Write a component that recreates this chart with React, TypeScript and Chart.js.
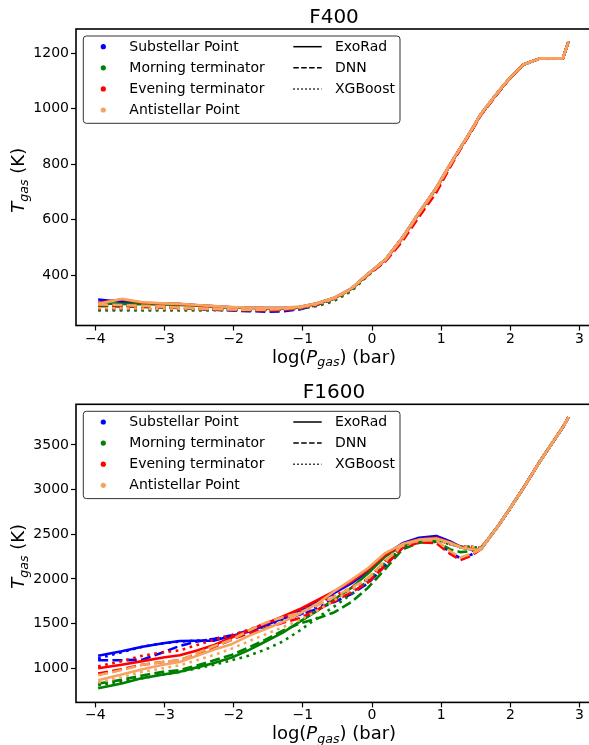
import React, { useEffect, useRef } from 'react';
import { Chart, registerables } from 'chart.js';

Chart.register(...registerables);

const FONT = '"DejaVu Sans", Verdana, sans-serif';

// log10 pressure grid (bar)
const LOG_P = [-3.96, -3.62, -3.32, -3.02, -2.78, -2.53, -2.28, -2.03, -1.79, -1.54, -1.29, -1.05, -0.8, -0.55, -0.3, -0.06, 0.19, 0.44, 0.68, 0.93, 1.13, 1.28, 1.43, 1.57, 1.82, 1.97, 2.19, 2.43, 2.76, 2.84];

const LOCATIONS = ['Substellar Point', 'Morning terminator', 'Evening terminator', 'Antistellar Point'];
const METHODS = ['ExoRad', 'DNN', 'XGBoost'];

const X_TICKS = [-4, -3, -2, -1, 0, 1, 2, 3];
const F400_Y_TICKS = [400, 600, 800, 1000, 1200];
const F1600_Y_TICKS = [1000, 1500, 2000, 2500, 3000, 3500];

// ---------- F400 ----------
const F400_EXORAD_SUB = [312, 303, 299, 297, 295, 291, 287, 284, 282, 281, 281, 285, 297, 317, 351, 404, 455, 535, 625, 715, 800, 860, 920, 980, 1060, 1105, 1160, 1182, 1182, 1243];
const F400_EXORAD_MORN = [298, 296, 295, 294, 292, 289, 285, 283, 281, 280, 280, 284, 296, 316, 350, 403, 454, 534, 624, 714, 799, 860, 920, 980, 1060, 1105, 1160, 1182, 1182, 1243];
const F400_EXORAD_EVE = [300, 312, 300, 297, 295, 291, 287, 284, 282, 281, 281, 285, 297, 317, 351, 404, 455, 535, 625, 715, 800, 860, 920, 980, 1060, 1105, 1160, 1182, 1182, 1243];
const F400_EXORAD_ANTI = [296, 314, 302, 298, 296, 292, 288, 285, 283, 282, 282, 286, 298, 318, 352, 405, 456, 536, 626, 716, 801, 861, 921, 981, 1061, 1106, 1160, 1182, 1182, 1243];
const F400_DNN_SUB = [290, 288, 286, 284, 281, 278, 275, 272, 270, 268, 269, 276, 292, 314, 350, 402, 452, 530, 620, 708, 795, 858, 918, 978, 1058, 1104, 1160, 1182, 1182, 1243];
const F400_DNN_MORN = [288, 287, 285, 283, 281, 279, 277, 275, 274, 274, 275, 280, 293, 315, 350, 402, 452, 530, 621, 709, 796, 858, 918, 978, 1058, 1104, 1160, 1182, 1182, 1243];
const F400_DNN_EVE = [292, 290, 287, 285, 282, 279, 276, 274, 273, 272, 274, 280, 294, 315, 350, 400, 448, 522, 610, 698, 790, 855, 915, 976, 1056, 1103, 1159, 1182, 1182, 1243];
const F400_DNN_ANTI = [294, 292, 289, 286, 283, 280, 278, 276, 275, 275, 277, 283, 296, 316, 351, 403, 453, 532, 622, 711, 798, 859, 919, 979, 1059, 1105, 1160, 1182, 1182, 1243];
const F400_XGB_SUB = [276, 276, 276, 276, 276, 276, 276, 276, 276, 276, 277, 280, 290, 310, 345, 400, 455, 536, 626, 715, 800, 860, 920, 980, 1060, 1105, 1160, 1182, 1182, 1243];
const F400_XGB_MORN = [272, 272, 272, 272, 272, 272, 273, 273, 273, 274, 275, 278, 288, 306, 342, 398, 452, 532, 622, 712, 798, 859, 919, 979, 1059, 1105, 1160, 1182, 1182, 1243];
const F400_XGB_EVE = [278, 278, 278, 277, 277, 277, 277, 277, 277, 277, 278, 282, 292, 312, 347, 402, 454, 534, 624, 714, 799, 860, 920, 980, 1060, 1105, 1160, 1182, 1182, 1243];
const F400_XGB_ANTI = [280, 280, 279, 279, 279, 278, 278, 278, 278, 278, 279, 283, 294, 314, 349, 403, 455, 535, 625, 715, 800, 860, 920, 980, 1060, 1105, 1160, 1182, 1182, 1243];

// ---------- F1600 ----------
const F1600_EXORAD_SUB = [1140, 1190, 1240, 1280, 1305, 1308, 1310, 1360, 1410, 1480, 1560, 1650, 1740, 1840, 1950, 2080, 2270, 2400, 2460, 2480, 2420, 2360, 2335, 2330, 2590, 2760, 3020, 3320, 3700, 3810];
const F1600_EXORAD_MORN = [776, 830, 890, 930, 960, 1010, 1060, 1120, 1200, 1300, 1400, 1520, 1640, 1770, 1900, 2060, 2250, 2380, 2440, 2455, 2405, 2352, 2332, 2328, 2590, 2760, 3020, 3320, 3700, 3810];
const F1600_EXORAD_EVE = [1000, 1040, 1080, 1120, 1146, 1200, 1260, 1345, 1420, 1500, 1580, 1660, 1760, 1860, 1970, 2100, 2270, 2390, 2445, 2462, 2408, 2355, 2333, 2329, 2590, 2760, 3020, 3320, 3700, 3810];
const F1600_EXORAD_ANTI = [866, 930, 990, 1040, 1071, 1140, 1210, 1270, 1360, 1440, 1520, 1610, 1720, 1860, 1990, 2120, 2290, 2390, 2440, 2452, 2405, 2352, 2332, 2328, 2590, 2760, 3020, 3320, 3700, 3810];
const F1600_DNN_SUB = [1090, 1090, 1095, 1180, 1250, 1300, 1330, 1370, 1420, 1500, 1560, 1600, 1660, 1740, 1830, 1950, 2150, 2350, 2415, 2415, 2300, 2230, 2270, 2330, 2590, 2760, 3020, 3320, 3700, 3810];
const F1600_DNN_MORN = [828, 870, 920, 960, 980, 1030, 1090, 1150, 1230, 1320, 1420, 1500, 1555, 1625, 1740, 1900, 2110, 2330, 2405, 2420, 2330, 2300, 2310, 2335, 2590, 2760, 3020, 3320, 3700, 3810];
const F1600_DNN_EVE = [940, 990, 1040, 1070, 1090, 1160, 1240, 1320, 1390, 1450, 1510, 1560, 1650, 1750, 1850, 1960, 2150, 2350, 2410, 2400, 2280, 2212, 2260, 2330, 2590, 2760, 3020, 3320, 3700, 3810];
const F1600_DNN_ANTI = [922, 980, 1040, 1070, 1090, 1170, 1250, 1320, 1420, 1510, 1570, 1620, 1700, 1800, 1900, 2010, 2200, 2380, 2430, 2430, 2310, 2240, 2280, 2330, 2590, 2760, 3020, 3320, 3700, 3810];
const F1600_XGB_SUB = [1110, 1180, 1240, 1280, 1300, 1310, 1320, 1360, 1410, 1470, 1530, 1600, 1680, 1780, 1880, 1990, 2200, 2370, 2430, 2445, 2390, 2365, 2360, 2345, 2590, 2760, 3020, 3320, 3700, 3810];
const F1600_XGB_MORN = [809, 850, 890, 930, 960, 1000, 1040, 1090, 1140, 1210, 1300, 1420, 1560, 1690, 1830, 1980, 2180, 2360, 2425, 2440, 2385, 2365, 2360, 2345, 2590, 2760, 3020, 3320, 3700, 3810];
const F1600_XGB_EVE = [1020, 1080, 1140, 1180, 1200, 1260, 1320, 1370, 1430, 1500, 1570, 1640, 1720, 1810, 1900, 2000, 2200, 2370, 2430, 2445, 2390, 2365, 2360, 2345, 2590, 2760, 3020, 3320, 3700, 3810];
const F1600_XGB_ANTI = [840, 900, 960, 1000, 1034, 1090, 1150, 1220, 1300, 1380, 1460, 1538, 1640, 1760, 1880, 2000, 2200, 2370, 2430, 2445, 2390, 2365, 2360, 2345, 2590, 2760, 3020, 3320, 3700, 3810];

const F400_SERIES = [
  [F400_EXORAD_SUB, F400_DNN_SUB, F400_XGB_SUB],
  [F400_EXORAD_MORN, F400_DNN_MORN, F400_XGB_MORN],
  [F400_EXORAD_EVE, F400_DNN_EVE, F400_XGB_EVE],
  [F400_EXORAD_ANTI, F400_DNN_ANTI, F400_XGB_ANTI],
];
const F1600_SERIES = [
  [F1600_EXORAD_SUB, F1600_DNN_SUB, F1600_XGB_SUB],
  [F1600_EXORAD_MORN, F1600_DNN_MORN, F1600_XGB_MORN],
  [F1600_EXORAD_EVE, F1600_DNN_EVE, F1600_XGB_EVE],
  [F1600_EXORAD_ANTI, F1600_DNN_ANTI, F1600_XGB_ANTI],
];

// styles
const LOC_COLORS = ['#0000ff', '#008000', '#ff0000', '#f4a460'];
const METHOD_DASH = [[], [10, 4.3], [2.7, 4.5]];
const LEGEND_DASH = [[], [5.5, 2.4], [1.5, 2.5]];

type Run = { text: string; italic?: boolean; sub?: boolean };

function drawRuns(ctx: CanvasRenderingContext2D, runs: Run[], cx: number, y: number, size: number) {
  const fontFor = (r: Run) => `${r.italic ? 'italic ' : ''}${r.sub ? size * 0.7 : size}px ${FONT}`;
  let total = 0;
  const widths = runs.map((r) => {
    ctx.font = fontFor(r);
    const w = ctx.measureText(r.text).width;
    total += w;
    return w;
  });
  let x = cx - total / 2;
  ctx.textAlign = 'left';
  ctx.textBaseline = 'alphabetic';
  runs.forEach((r, i) => {
    ctx.font = fontFor(r);
    ctx.fillText(r.text, x, y + (r.sub ? size * 0.22 : 0));
    x += widths[i];
  });
}

function makeDecor(title: string) {
  return {
    id: 'decor',
    afterDraw(chart: any) {
      const ctx: CanvasRenderingContext2D = chart.ctx;
      const a = chart.chartArea;
      ctx.save();
      // frame
      ctx.strokeStyle = '#000';
      ctx.lineWidth = 1.6;
      ctx.setLineDash([]);
      ctx.strokeRect(a.left, a.top, a.right - a.left, a.bottom - a.top);

      // title
      ctx.fillStyle = '#000';
      ctx.font = `20px ${FONT}`;
      ctx.textAlign = 'center';
      ctx.textBaseline = 'alphabetic';
      ctx.fillText(title, (a.left + a.right) / 2, a.top - 6);

      // x label
      drawRuns(ctx, [
        { text: 'log(' },
        { text: 'P', italic: true },
        { text: 'gas', italic: true, sub: true },
        { text: ') (bar)' },
      ], (a.left + a.right) / 2, a.bottom + 37, 18);

      // y label
      ctx.save();
      ctx.translate(24, (a.top + a.bottom) / 2 + 3);
      ctx.rotate(-Math.PI / 2);
      drawRuns(ctx, [
        { text: 'T', italic: true },
        { text: 'gas', italic: true, sub: true },
        { text: ' (K)' },
      ], 0, 0, 18);
      ctx.restore();

      // legend
      const bx = a.left + 7.3;
      const by = a.top + 7;
      const bw = 316.7;
      const bh = 87.3;
      const r = 3;
      ctx.beginPath();
      ctx.moveTo(bx + r, by);
      ctx.lineTo(bx + bw - r, by);
      ctx.arcTo(bx + bw, by, bx + bw, by + r, r);
      ctx.lineTo(bx + bw, by + bh - r);
      ctx.arcTo(bx + bw, by + bh, bx + bw - r, by + bh, r);
      ctx.lineTo(bx + r, by + bh);
      ctx.arcTo(bx, by + bh, bx, by + bh - r, r);
      ctx.lineTo(bx, by + r);
      ctx.arcTo(bx, by, bx + r, by, r);
      ctx.closePath();
      ctx.fillStyle = 'rgba(255,255,255,0.85)';
      ctx.fill();
      ctx.strokeStyle = '#333';
      ctx.lineWidth = 1;
      ctx.stroke();

      ctx.font = `14px ${FONT}`;
      ctx.textAlign = 'left';
      ctx.textBaseline = 'middle';
      LOCATIONS.forEach((name, i) => {
        const yy = by + 10.7 + i * 21.1;
        ctx.fillStyle = LOC_COLORS[i];
        ctx.beginPath();
        ctx.arc(bx + 20, yy, 2.6, 0, Math.PI * 2);
        ctx.fill();
        ctx.fillStyle = '#000';
        ctx.fillText(name, bx + 46, yy + 0.5);
      });
      METHODS.forEach((name, i) => {
        const yy = by + 10.7 + i * 21.1;
        ctx.strokeStyle = '#000';
        ctx.lineWidth = 1.5;
        ctx.setLineDash(LEGEND_DASH[i]);
        ctx.beginPath();
        ctx.moveTo(bx + 210, yy);
        ctx.lineTo(bx + 238.4, yy);
        ctx.stroke();
        ctx.setLineDash([]);
        ctx.fillStyle = '#000';
        ctx.fillText(name, bx + 251.7, yy + 0.5);
      });
      ctx.restore();
    },
  };
}

type PanelProps = {
  title: string;
  series: number[][][];
  yTicks: number[];
  yMin: number;
  yMax: number;
  height: number;
  topPad: number;
  xAxisH: number;
};

function Panel({ title, series, yTicks, yMin, yMax, height, topPad, xAxisH }: PanelProps) {
  const ref = useRef<HTMLCanvasElement | null>(null);
  useEffect(() => {
    if (!ref.current) return;
    const datasets: any[] = [];
    series.forEach((methods, li) => {
      methods.forEach((vals, mi) => {
        datasets.push({
          label: `${LOCATIONS[li]} ${METHODS[mi]}`,
          data: LOG_P.map((x, k) => ({ x, y: vals[k] })),
          borderColor: LOC_COLORS[li],
          backgroundColor: LOC_COLORS[li],
          borderWidth: 2.6,
          borderDash: METHOD_DASH[mi],
          borderCapStyle: 'butt',
          borderJoinStyle: 'round',
          pointRadius: 0,
          fill: false,
          tension: 0,
        });
      });
    });
    datasets.reverse(); // first dataset is drawn on top in Chart.js

    const tickFont = { family: FONT, size: 14 };
    const chart = new Chart(ref.current, {
      type: 'line',
      data: { datasets },
      options: {
        animation: false,
        responsive: false,
        devicePixelRatio: 1,
        layout: { padding: { left: 0, right: 3, top: topPad, bottom: 0 } },
        plugins: {
          legend: { display: false },
          tooltip: { enabled: false },
          title: { display: false },
        },
        scales: {
          x: {
            type: 'linear',
            min: -4.28,
            max: 3.18,
            bounds: 'data',
            afterBuildTicks: (s: any) => {
              s.ticks = X_TICKS.map((v) => ({ value: v }));
            },
            afterFit: (s: any) => {
              s.height = xAxisH;
            },
            ticks: {
              font: tickFont,
              color: '#000',
              padding: 0,
              maxRotation: 0,
              autoSkip: false,
              callback: (v: any) => (Number(v) < 0 ? '\u2212' + Math.abs(Number(v)) : String(v)),
            },
            grid: { drawOnChartArea: false, drawTicks: true, tickLength: 5, tickWidth: 1.2, tickColor: '#000' },
            border: { display: false },
          },
          y: {
            type: 'linear',
            min: yMin,
            max: yMax,
            bounds: 'data',
            afterBuildTicks: (s: any) => {
              s.ticks = yTicks.map((v) => ({ value: v }));
            },
            afterFit: (s: any) => {
              s.width = 76;
            },
            ticks: {
              font: tickFont,
              color: '#000',
              padding: 2,
              autoSkip: false,
              callback: (v: any) => String(v),
            },
            grid: { drawOnChartArea: false, drawTicks: true, tickLength: 5, tickWidth: 1.2, tickColor: '#000' },
            border: { display: false },
          },
        },
      } as any,
      plugins: [makeDecor(title)],
    });
    return () => chart.destroy();
  }, [title, series, yTicks, yMin, yMax, height, topPad, xAxisH]);

  return <canvas ref={ref} width={595} height={height} style={{ display: 'block', width: 595, height }} />;
}

export default function App() {
  return (
    <div
      style={{
        position: 'absolute',
        left: 0,
        top: 0,
        width: 589,
        height: 745,
        overflow: 'hidden',
        background: '#fff',
      }}
    >
      <Panel title="F400" series={F400_SERIES} yTicks={F400_Y_TICKS} yMin={218} yMax={1288} height={372} topPad={29} xAxisH={46.5} />
      <Panel title="F1600" series={F1600_SERIES} yTicks={F1600_Y_TICKS} yMin={618} yMax={3955} height={373} topPad={32.3} xAxisH={42.6} />
    </div>
  );
}
